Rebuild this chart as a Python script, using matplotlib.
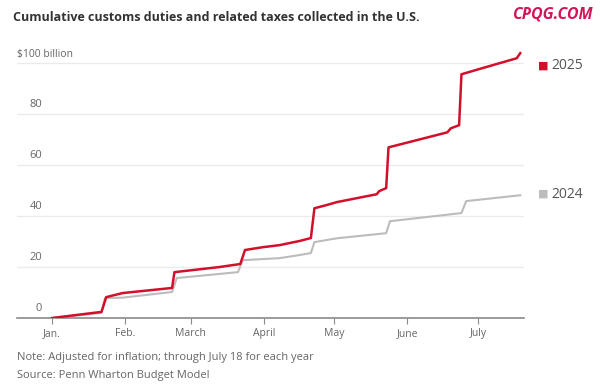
import matplotlib
matplotlib.use("Agg")
import matplotlib.pyplot as plt
import matplotlib.transforms as mtransforms

# day of year (Jan 1 = 0) and cumulative collections, $ billion
days_2025 = [0, 21, 23, 30, 51, 52, 71, 80, 82, 89.5, 96.6, 105, 110, 111.5, 116.5, 121,
             138, 139, 142, 143, 168, 169.5, 173, 174, 181, 197.5, 199]
vals_2025 = [0, 2.4, 8.2, 9.8, 11.8, 18, 20, 21.2, 26.7, 27.8, 28.6, 30.2, 31.4, 43.1, 44.3, 45.5,
             48.6, 49.8, 51, 67, 72.9, 74.5, 75.7, 95.7, 97.6, 102, 104]

days_2024 = [0, 21, 22.5, 30, 51, 53, 79, 81, 96.6, 105, 110, 111.5, 121, 142, 143.6, 174, 176, 199]
vals_2024 = [0, 2.0, 7.8, 8.0, 10.2, 15.7, 18.0, 22.7, 23.5, 24.7, 25.5, 29.8, 31.3, 33.3, 38.0,
             41.2, 45.9, 48.2]

month_days = [0, 31, 59, 90, 120, 151, 181]
month_labels = ["Jan.", "Feb.", "March", "April", "May", "June", "July"]
y_ticks = [0, 20, 40, 60, 80, 100]
y_labels = ["0", "20", "40", "60", "80", "$100 billion"]

RED = "#d2102b"
GREY = "#bcbcbc"
TXT = "#666666"

plt.rcParams["font.family"] = ["Open Sans", "DejaVu Sans"]

fig = plt.figure(figsize=(6, 3.89), dpi=100, facecolor="white")
ax = fig.add_axes([0.028, 0.1825, 0.845, 0.694])

ax.set_xlim(-15, 200.5)
ax.set_ylim(0, 106)

for y in y_ticks[1:]:
    ax.axhline(y, color="#ebebeb", lw=1, zorder=0)

ax.plot(days_2024, vals_2024, color=GREY, lw=1.5, zorder=2)
ax.plot(days_2025, vals_2025, color=RED, lw=1.8, zorder=3)

for s in ["top", "right", "left"]:
    ax.spines[s].set_visible(False)
ax.spines["bottom"].set_color("#8a8a8a")
ax.spines["bottom"].set_linewidth(1.2)

ax.set_yticks([])
ax.set_xticks(month_days)
ax.set_xticklabels(month_labels, fontsize=7.5, color=TXT)
ax.tick_params(axis="x", length=4, color="#8a8a8a", pad=3)

trans = mtransforms.blended_transform_factory(ax.transAxes, ax.transData)
for y, lab in zip(y_ticks, y_labels):
    if y == 100:
        ax.text(0.0, y + 1.5, lab, transform=trans, ha="left", va="bottom",
                fontsize=7.5, color=TXT)
    else:
        ax.text(0.05, y + 1.5, lab, transform=trans, ha="right", va="bottom",
                fontsize=8, color=TXT)

# legend labels at line ends
for val, lab, col in [(vals_2025[-1] - 5, "2025", RED), (vals_2024[-1] + 0.3, "2024", GREY)]:
    ax.annotate("■", xy=(1.0, val), xycoords=trans, xytext=(10, 0), textcoords="offset points",
                va="center", ha="left", fontsize=8, color=col, annotation_clip=False)
    ax.annotate(lab, xy=(1.0, val), xycoords=trans, xytext=(20, 0), textcoords="offset points",
                va="center", ha="left", fontsize=10, color="#555555", annotation_clip=False)

fig.text(0.022, 0.955, "Cumulative customs duties and related taxes collected in the U.S.",
         fontsize=9, fontweight="bold", color="#333333", va="center", ha="left")
fig.text(0.987, 0.962, "CPQG.COM", fontsize=11.5, fontweight="bold", fontstyle="italic",
         color="#d4145a", va="center", ha="right")
fig.text(0.028, 0.082, "Note: Adjusted for inflation; through July 18 for each year",
         fontsize=8, color=TXT, va="center", ha="left")
fig.text(0.028, 0.035, "Source: Penn Wharton Budget Model",
         fontsize=8, color=TXT, va="center", ha="left")

fig.savefig("out.png", dpi=100, facecolor="white")
